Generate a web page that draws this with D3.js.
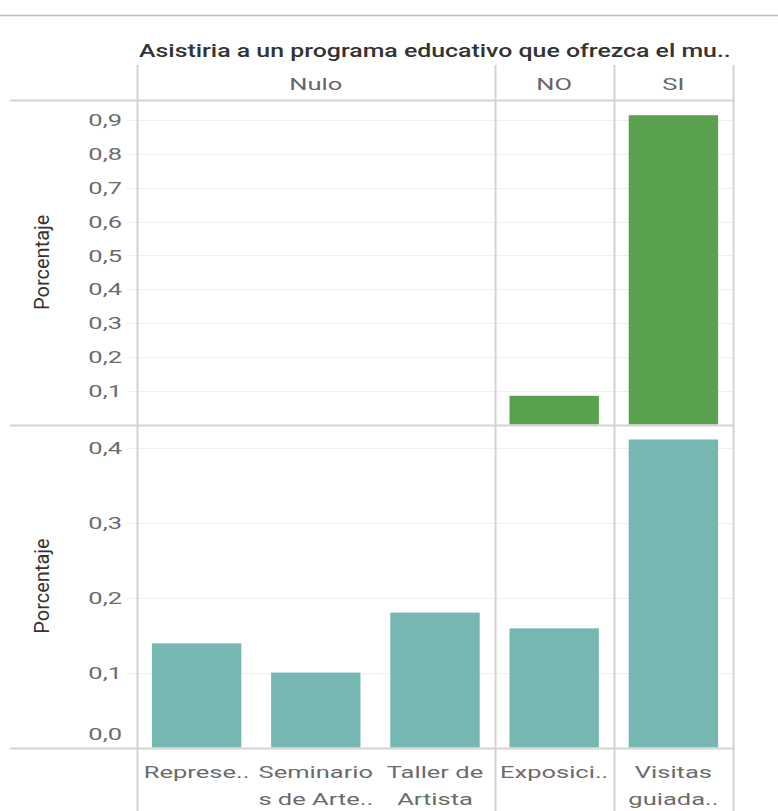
<!DOCTYPE html>
<html><head><meta charset="utf-8">
<script src="https://cdn.jsdelivr.net/npm/d3@7"></script>
<style>body{margin:0;background:#fff;} svg{display:block;font-family:Roboto, "Noto Sans", sans-serif;}</style>
</head><body>
<script>
const title = "Asistiria a un programa educativo que ofrezca el mu..";
const groups = ["Nulo", "NO", "SI"];
const categories = ["Represe..", "Seminarios de Arte..", "Taller de Artista", "Exposici..", "Visitas guiada.."];
const categoryLines = [["Represe.."], ["Seminario", "s de Arte.."], ["Taller de", "Artista"], ["Exposici.."], ["Visitas", "guiada.."]];
const categoryGroup = ["Nulo", "Nulo", "Nulo", "NO", "SI"];
const topValues = [null, null, null, 0.085, 0.915];
const bottomValues = [0.139, 0.10, 0.18, 0.159, 0.411];
const topTicks = [0.1, 0.2, 0.3, 0.4, 0.5, 0.6, 0.7, 0.8, 0.9];
const bottomTicks = [0.0, 0.1, 0.2, 0.3, 0.4];
const yLabel = "Porcentaje";

const W = 778, H = 811;
const svg = d3.select("body").append("svg").attr("width", W).attr("height", H);
const left = 137, right = 733;
const headerTop = 65, headerBottom = 100, mid = 424.5, bottom = 747.5;
const lineColor = "#d4d4d4", gridColor = "#efefef", textColor = "#6b6b6b";
const SX = 1.5; // horizontal stretch of reference lettering

const x = d3.scaleBand().domain(categories).range([left, right]).paddingInner(0.25).paddingOuter(0.125);
const yTop = d3.scaleLinear().domain([0, 0.96]).range([mid, headerBottom]);
const yBot = d3.scaleLinear().domain([0, 0.431]).range([bottom, mid]);
const fmt = d => d3.format(".1f")(d).replace(".", ",");

function label(parent, tx, ty, text, opts) {
  const g = parent.append("g").attr("transform", `translate(${tx},${ty}) scale(${opts.sx || SX},1)` + (opts.rot ? ` rotate(${opts.rot})` : ""));
  return g.append("text").attr("x", 0).attr("y", 0)
    .attr("text-anchor", opts.anchor || "start")
    .attr("font-size", opts.size || 17)
    .attr("font-weight", opts.weight || 400)
    .attr("fill", opts.fill || textColor)
    .attr("dy", opts.dy || 0)
    .text(text);
}

// top rule
svg.append("line").attr("x1", 0).attr("x2", W).attr("y1", 15.5).attr("y2", 15.5).attr("stroke", "#bdbdbd").attr("stroke-width", 1.5);

// title
label(svg, left + 2, 57, title, {size: 19, weight: 500, fill: "#333", sx: 1.31});

// gridlines
function grid(scale, ticks) {
  svg.append("g").selectAll("line").data(ticks).join("line")
    .attr("x1", left - 10).attr("x2", right).attr("y1", d => Math.round(scale(d)) + 0.5).attr("y2", d => Math.round(scale(d)) + 0.5)
    .attr("stroke", gridColor).attr("stroke-width", 1.2);
}
grid(yTop, topTicks);
grid(yBot, bottomTicks.filter(d => d > 0));

// bars
svg.append("g").selectAll("rect").data(categories.map((c, i) => ({c, v: topValues[i]})).filter(d => d.v != null)).join("rect")
  .attr("x", d => x(d.c)).attr("width", x.bandwidth()).attr("y", d => yTop(d.v)).attr("height", d => yTop(0) - yTop(d.v))
  .attr("fill", "#59a14f");
svg.append("g").selectAll("rect").data(categories.map((c, i) => ({c, v: bottomValues[i]}))).join("rect")
  .attr("x", d => x(d.c)).attr("width", x.bandwidth()).attr("y", d => yBot(d.v)).attr("height", d => yBot(0) - yBot(d.v))
  .attr("fill", "#76b7b2");

// group boundaries
const groupInfo = groups.map(g => {
  const cs = categories.filter((c, i) => categoryGroup[i] === g);
  const x0 = x(cs[0]) - x.step() * 0.125, x1 = x(cs[cs.length - 1]) + x.bandwidth() + x.step() * 0.125;
  return {g, x0, x1};
});
const vlines = [left].concat(groupInfo.map(d => d.x1));
svg.append("g").selectAll("line").data(vlines).join("line")
  .attr("x1", d => Math.round(d) + 0.5).attr("x2", d => Math.round(d) + 0.5).attr("y1", headerTop).attr("y2", H)
  .attr("stroke", lineColor).attr("stroke-width", 2);
svg.append("g").selectAll("line").data([headerBottom, mid, bottom]).join("line")
  .attr("x1", 10).attr("x2", right).attr("y1", d => Math.round(d) + 0.5).attr("y2", d => Math.round(d) + 0.5)
  .attr("stroke", lineColor).attr("stroke-width", 2);

// group headers
const hg = svg.append("g");
groupInfo.forEach(d => label(hg, (d.x0 + d.x1) / 2, 90, d.g, {anchor: "middle", fill: "#666"}));

// y axes (tick labels drawn from d3 axis ticks)
function yAxis(scale, ticks) {
  const ax = d3.axisLeft(scale).tickValues(ticks).tickFormat(fmt);
  const tmp = svg.append("g").attr("visibility", "hidden").call(ax);
  const g = svg.append("g");
  tmp.selectAll(".tick").each(function(d) {
    const ty = Math.min(scale(d), bottom - 14);
    label(g, left - 15, ty, fmt(d), {anchor: "end", dy: "0.36em"});
  });
  tmp.remove();
}
yAxis(yTop, topTicks);
yAxis(yBot, bottomTicks);

// y labels
const yl = svg.append("g");
[(headerBottom + mid) / 2, (mid + bottom) / 2].forEach(cy => {
  label(yl, 49, cy, yLabel, {anchor: "middle", rot: -90, size: 20, sx: 1.05, fill: "#333"});
});

// category labels
const cg = svg.append("g");
categories.forEach((c, i) => {
  categoryLines[i].forEach((l, j) => label(cg, x(c) + x.bandwidth() / 2, 778 + j * 27, l, {anchor: "middle"}));
});
</script>
</body></html>
